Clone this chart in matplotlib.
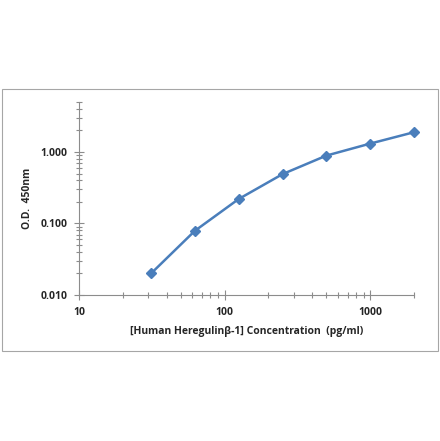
import numpy as np
import matplotlib.pyplot as plt
from matplotlib.patches import Rectangle
from matplotlib.ticker import LogLocator, FixedLocator, NullFormatter

plt.rcParams['font.family'] = ['Open Sans', 'DejaVu Sans']

# standard curve readings
conc = [31.25, 62.5, 125, 250, 500, 1000, 2000]
od = [0.020, 0.079, 0.22, 0.49, 0.89, 1.31, 1.89]
x_ticks = [10, 100, 1000]
x_labels = ['10', '100', '1000']
y_ticks = [0.01, 0.1, 1]
y_labels = ['0.010', '0.100', '1.000']

fig = plt.figure(figsize=(4.4, 4.41), dpi=100)

# outer chart frame
fig.patches.append(Rectangle((2 / 440, 1 - 351 / 441), 436 / 440, 262 / 441,
                             transform=fig.transFigure, fill=False,
                             edgecolor='#a6a6a6', linewidth=0.8))

ax = fig.add_axes([79 / 440, 1 - 295 / 441, 335 / 440, 193 / 441])
ax.set_xscale('log')
ax.set_yscale('log')
ax.set_xlim(10, 2000)
ax.set_ylim(0.01, 5)

ax.plot(conc, od, color='#4a7ebb', linewidth=1.8, marker='D', markersize=5.5,
        markerfacecolor='#4a7ebb', markeredgecolor='#4a7ebb', zorder=3,
        clip_on=False)

for side in ['top', 'right']:
    ax.spines[side].set_visible(False)
for side in ['left', 'bottom']:
    ax.spines[side].set_color('#8c8c8c')
    ax.spines[side].set_linewidth(0.8)

ax.xaxis.set_major_locator(FixedLocator(x_ticks))
ax.set_xticklabels(x_labels)
ax.yaxis.set_major_locator(FixedLocator(y_ticks))
ax.set_yticklabels(y_labels)
ax.xaxis.set_minor_locator(LogLocator(base=10, subs=np.arange(2, 10), numticks=20))
ax.yaxis.set_minor_locator(LogLocator(base=10, subs=np.arange(2, 10), numticks=20))
ax.xaxis.set_minor_formatter(NullFormatter())
ax.yaxis.set_minor_formatter(NullFormatter())
ax.tick_params(which='major', direction='inout', length=7, width=0.8, color='#8c8c8c',
               labelsize=7.5, labelcolor='#262626', pad=5)
ax.tick_params(which='minor', direction='inout', length=5, width=0.8, color='#8c8c8c')
for lab in ax.get_xticklabels() + ax.get_yticklabels():
    lab.set_fontweight('bold')

ax.set_xlabel('[Human Heregulinβ-1] Concentration  (pg/ml)', fontsize=7.5,
              fontweight='bold', color='#262626', labelpad=6)
ax.set_ylabel('O.D.  450nm', fontsize=7.5, fontweight='bold', color='#262626',
              labelpad=5)

fig.savefig('out.png', dpi=100)
